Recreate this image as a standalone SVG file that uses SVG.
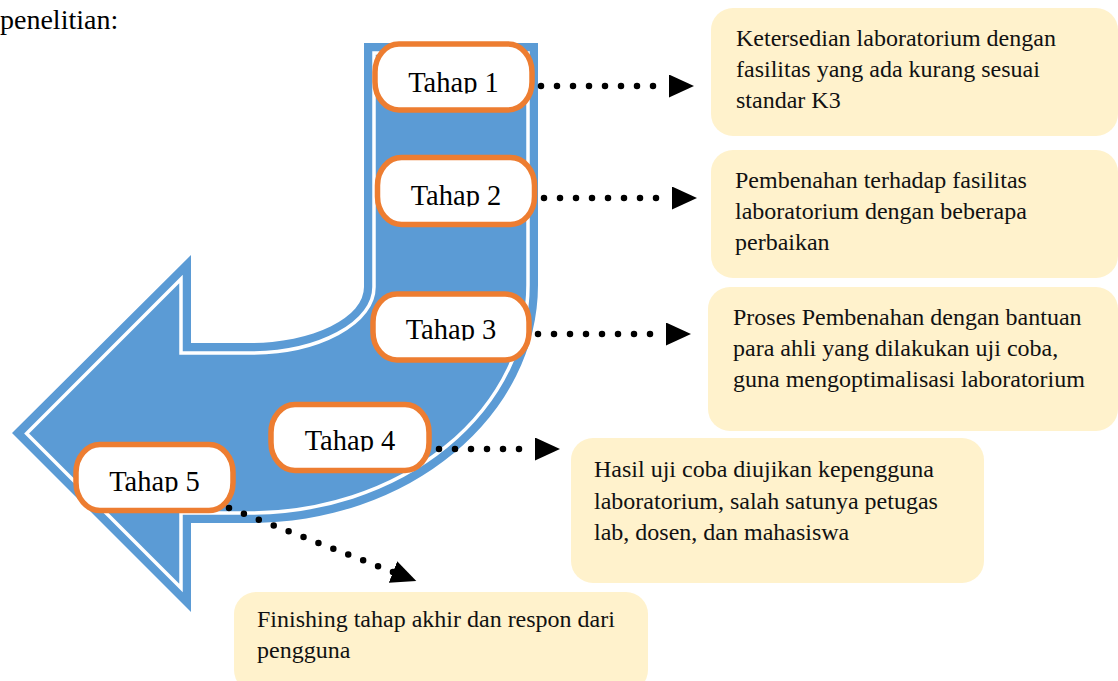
<svg xmlns="http://www.w3.org/2000/svg" width="1118" height="681" viewBox="0 0 1118 681">
<defs>
<style>
.lbl{font-family:"Liberation Serif","Times New Roman",serif;font-size:28.5px;fill:#000;text-anchor:middle}
.pill{fill:#fff;stroke:#ED7D31;stroke-width:5.5}
.info{fill:#FFF2CC}
.itxt{font-family:"Liberation Serif","Times New Roman",serif;font-size:24px;fill:#111}
.dot{fill:none;stroke:#000;stroke-width:6.5;stroke-linecap:round;stroke-dasharray:0 16}
.body{font-family:"Liberation Serif","Times New Roman",serif;font-size:28px;fill:#000}
</style>
<marker id="ah" markerUnits="userSpaceOnUse" markerWidth="26" markerHeight="24" viewBox="0 0 26 24" refX="0" refY="11.5" orient="auto">
<path d="M0,0 L25,11.5 L0,23 Z" fill="#000"/>
</marker>
<clipPath id="c1"><rect x="380" y="55" width="150" height="38.5"/></clipPath>
<clipPath id="c2"><rect x="380" y="168" width="150" height="38.5"/></clipPath>
<clipPath id="c3"><rect x="376" y="302" width="150" height="38.5"/></clipPath>
<clipPath id="c4"><rect x="275" y="413" width="150" height="38.5"/></clipPath>
<clipPath id="c5"><rect x="80" y="454" width="150" height="38.5"/></clipPath>
</defs>

<text class="body" x="0" y="29">penelitian:</text>

<g id="arrow">
<path d="M364,43 H538 V285 A288,238 0 0 1 250,523 H191 V612 L12,433 L191,255 V343 H250 A114,56 0 0 0 364,287 Z" fill="#5B9BD5"/>
<path d="M374,53 H528 V285 A278,228 0 0 1 250,513 H181 V588 L26.6,433.5 L181,279 V353 H250 A124,66 0 0 0 374,287 Z" fill="none" stroke="#fff" stroke-width="3.5"/>
</g>

<g id="tahap1">
<rect class="pill" x="375" y="44" width="157" height="66" rx="24" ry="28"/>
<text class="lbl" x="453.5" y="92" clip-path="url(#c1)">Tahap 1</text>
</g>
<g id="tahap2">
<rect class="pill" x="377.5" y="157.5" width="157" height="67" rx="24" ry="28"/>
<text class="lbl" x="456" y="205" clip-path="url(#c2)">Tahap 2</text>
</g>
<g id="tahap3">
<rect class="pill" x="373" y="294" width="156" height="66" rx="24" ry="28"/>
<text class="lbl" x="451" y="339" clip-path="url(#c3)">Tahap 3</text>
</g>
<g id="tahap4">
<rect class="pill" x="271" y="404.5" width="158" height="66" rx="24" ry="28"/>
<text class="lbl" x="350" y="450" clip-path="url(#c4)">Tahap 4</text>
</g>
<g id="tahap5">
<rect class="pill" x="76" y="444.5" width="157" height="66" rx="24" ry="28"/>
<text class="lbl" x="154.5" y="491" clip-path="url(#c5)">Tahap 5</text>
</g>

<g id="info1">
<rect class="info" x="711" y="8" width="407" height="128" rx="22"/>
<text class="itxt"><tspan x="736" y="46">Ketersedian laboratorium dengan</tspan><tspan x="736" y="77">fasilitas yang ada kurang sesuai</tspan><tspan x="736" y="108">standar K3</tspan></text>
</g>
<g id="info2">
<rect class="info" x="711" y="150" width="407" height="128" rx="22"/>
<text class="itxt"><tspan x="735" y="188">Pembenahan terhadap fasilitas</tspan><tspan x="735" y="219">laboratorium dengan beberapa</tspan><tspan x="735" y="250">perbaikan</tspan></text>
</g>
<g id="info3">
<rect class="info" x="708" y="287" width="410" height="144" rx="22"/>
<text class="itxt"><tspan x="733" y="325">Proses Pembenahan dengan bantuan</tspan><tspan x="733" y="356">para ahli yang dilakukan uji coba,</tspan><tspan x="733" y="387">guna mengoptimalisasi laboratorium</tspan></text>
</g>
<g id="info4">
<rect class="info" x="571" y="438" width="413" height="145" rx="22"/>
<text class="itxt"><tspan x="594" y="477">Hasil uji coba diujikan kepengguna</tspan><tspan x="594" y="509">laboratorium, salah satunya petugas</tspan><tspan x="594" y="540">lab, dosen, dan mahasiswa</tspan></text>
</g>
<g id="info5">
<rect class="info" x="234" y="592" width="414" height="100" rx="22"/>
<text class="itxt"><tspan x="257" y="627">Finishing tahap akhir dan respon dari</tspan><tspan x="257" y="658">pengguna</tspan></text>
</g>

<g id="connectors">
<path class="dot" d="M541,86 H669" marker-end="url(#ah)"/>
<path class="dot" d="M544,198 H672" marker-end="url(#ah)"/>
<path class="dot" d="M538,334 H666" marker-end="url(#ah)"/>
<path class="dot" d="M439,449 H535" marker-end="url(#ah)"/>
<path class="dot" d="M229,508 L393,572" marker-end="url(#ah)"/>
</g>
</svg>
